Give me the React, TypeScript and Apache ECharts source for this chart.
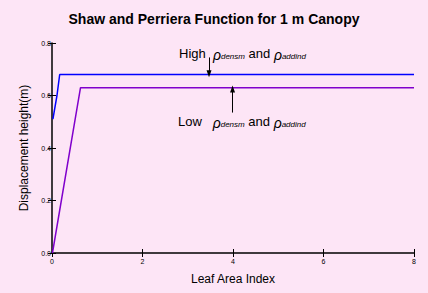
import React, { useEffect, useRef } from 'react';
import * as echarts from 'echarts';

const chartTitle = 'Shaw and Perriera Function for 1 m Canopy';
const xAxisName = 'Leaf Area Index';
const yAxisName = 'Displacement height(m)';

const highLAI = [0.02, 0.11, 0.17, 8];
const highDisp = [0.51, 0.6, 0.68, 0.68];
const lowLAI = [0.01, 0.63, 8];
const lowDisp = [0.0, 0.63, 0.63];

const xMin = 0, xMax = 8, xStep = 2;
const yMin = 0, yMax = 0.8, yStep = 0.2;

const highArrow = { x: 3.47, from: 0.745, to: 0.683 };
const lowArrow = { x: 3.99, from: 0.535, to: 0.625 };

const FONT = '"Liberation Sans", Arial, sans-serif';
const BG = '#FDE5F6';

export default function App() {
  const ref = useRef<HTMLDivElement>(null);
  useEffect(() => {
    document.body.style.margin = '0';
    document.body.style.background = BG;
    const chart = echarts.init(ref.current!, null, { renderer: 'svg' });
    const baseX = {
      type: 'value', min: xMin, max: xMax, interval: xStep,
      splitLine: { show: false },
    };
    const baseY = {
      type: 'value', min: yMin, max: yMax, interval: yStep,
      splitLine: { show: false },
    };
    const rich = {
      a: { fontSize: 13, fontFamily: FONT, color: '#000' },
      r: { fontSize: 14, fontFamily: FONT, fontStyle: 'italic', color: '#000', padding: [3, 0, 0, 0] },
      s: { fontSize: 8, fontFamily: FONT, fontStyle: 'italic', color: '#000', padding: [7, 0, 0, 0] },
    };
    chart.setOption({
      animation: false,
      backgroundColor: BG,
      textStyle: { fontFamily: FONT },
      title: {
        text: chartTitle, left: 'center', top: 7,
        textStyle: { fontSize: 14, fontWeight: 'bold', color: '#000', fontFamily: FONT },
      },
      grid: { left: 52, right: 14, top: 43, bottom: 40 },
      xAxis: [
        {
          ...baseX, position: 'bottom',
          axisLine: { show: true, lineStyle: { color: '#000', width: 1.5 } },
          axisTick: { show: true, inside: false, length: 4, lineStyle: { color: '#000' } },
          axisLabel: { fontSize: 7, color: '#000', margin: 5, fontFamily: FONT },
          name: xAxisName, nameLocation: 'middle', nameGap: 20,
          nameTextStyle: { fontSize: 12, color: '#000', fontFamily: FONT },
        },
        {
          ...baseX, position: 'bottom',
          axisLine: { show: false },
          axisTick: { show: true, inside: true, length: 4, lineStyle: { color: '#000' } },
          axisLabel: { show: false },
        },
      ],
      yAxis: [
        {
          ...baseY, position: 'left',
          axisLine: { show: true, lineStyle: { color: '#000', width: 1.5 } },
          axisTick: { show: true, inside: false, length: 4, lineStyle: { color: '#000' } },
          axisLabel: {
            fontSize: 7, color: '#000', margin: 1, fontFamily: FONT,
            formatter: (v: number) => v.toFixed(1), padding: [0, 0, 3, 0],
          },
          name: yAxisName, nameLocation: 'middle', nameGap: 18,
          nameTextStyle: { fontSize: 12, color: '#000', fontFamily: FONT },
        },
        {
          ...baseY, position: 'left',
          axisLine: { show: false },
          axisTick: { show: true, inside: true, length: 4, lineStyle: { color: '#000' } },
          axisLabel: { show: false },
        },
      ],
      series: [
        {
          type: 'line', name: 'High', showSymbol: false, symbol: 'none',
          data: highLAI.map((x, i) => [x, highDisp[i]]),
          lineStyle: { color: '#0000FF', width: 1.5 },
          itemStyle: { color: '#0000FF' },
          markLine: {
            silent: true, symbol: ['none', 'triangle'], symbolSize: [5, 7],
            label: { show: false },
            lineStyle: { color: '#000', width: 1, type: 'solid' },
            data: [[{ coord: [highArrow.x, highArrow.from] }, { coord: [highArrow.x, highArrow.to] }]],
          },
        },
        {
          type: 'line', name: 'Low', showSymbol: false, symbol: 'none',
          data: lowLAI.map((x, i) => [x, lowDisp[i]]),
          lineStyle: { color: '#8000CC', width: 1.5 },
          itemStyle: { color: '#8000CC' },
          markLine: {
            silent: true, symbol: ['none', 'triangle'], symbolSize: [5, 7],
            label: { show: false },
            lineStyle: { color: '#000', width: 1, type: 'solid' },
            data: [[{ coord: [lowArrow.x, lowArrow.from] }, { coord: [lowArrow.x, lowArrow.to] }]],
          },
        },
      ],
      graphic: [
        {
          type: 'text', x: 179, y: 53,
          style: {
            text: '{a|High  }{r|ρ}{s|densm}{a| and }{r|ρ}{s|addind}',
            rich, verticalAlign: 'middle',
          },
        },
        {
          type: 'text', x: 178, y: 121,
          style: {
            text: '{a|Low   }{r|ρ}{s|densm}{a| and }{r|ρ}{s|addind}',
            rich, verticalAlign: 'middle',
          },
        },
      ],
    });
    return () => chart.dispose();
  }, []);
  return <div ref={ref} style={{ width: 428, height: 293 }} />;
}
